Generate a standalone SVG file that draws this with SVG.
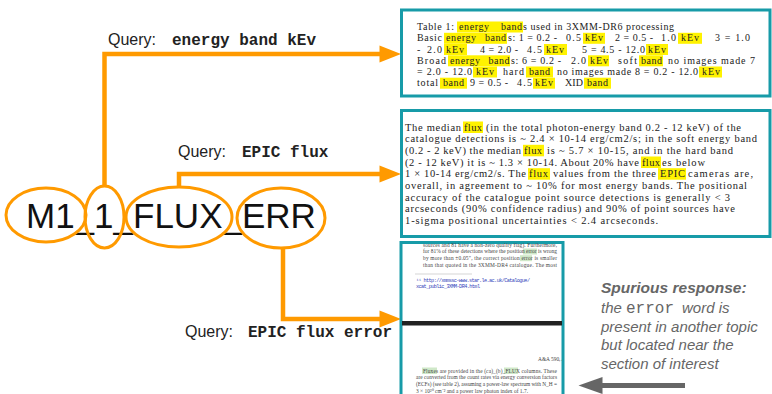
<svg xmlns="http://www.w3.org/2000/svg" width="772" height="394" viewBox="0 0 772 394">
<style>
.box{fill:#fff;stroke:#179ba8;stroke-width:3}
.conn{fill:none;stroke:#ff9a00;stroke-width:4.5}
.ell{fill:none;stroke:#ff9a00;stroke-width:3}
.q{font-family:"Liberation Sans",Arial,sans-serif;font-size:16px;fill:#222}
.qm{font-family:"Liberation Mono","Courier New",monospace;font-size:16px;font-weight:bold;fill:#222}
.big{font-family:"Liberation Sans",Arial,sans-serif;font-size:35px;fill:#111}
.t1{font-family:"Liberation Serif","Times New Roman",serif;font-size:10px;fill:#222}
.t2{font-family:"Liberation Serif","Times New Roman",serif;font-size:10.5px;fill:#222}
.t3{font-family:"Liberation Serif","Times New Roman",serif;font-size:5.4px;fill:#444}
.url{font-family:"Liberation Mono","Courier New",monospace;font-size:5.2px;fill:#3344bb}
.hl{fill:#fff200}
.hg{fill:#cfe8c8}
.note{font-family:"Liberation Sans",Arial,sans-serif;font-size:15px;font-style:italic;fill:#666}
.noteb{font-weight:bold;font-size:15.5px}
.notem{font-family:"Liberation Mono","Courier New",monospace;font-style:normal;font-size:16px;fill:#666}
</style>
<defs>
<marker id="ah" markerUnits="userSpaceOnUse" markerWidth="24" markerHeight="20" viewBox="0 -10 24 20" refX="0.5" refY="0" orient="auto" overflow="visible"><path d="M0,-8.5 L21.5,0 L0,8.5 z" fill="#ff9a00"/></marker>
<marker id="ahg" markerUnits="userSpaceOnUse" markerWidth="26" markerHeight="20" viewBox="0 -10 26 20" refX="0.5" refY="0" orient="auto" overflow="visible"><path d="M0,-8.5 L24,0 L0,8.5 z" fill="#666"/></marker>
<clipPath id="c3"><rect x="402" y="243" width="160" height="151"/></clipPath>
</defs>
<rect width="772" height="394" fill="#fff"/>

<g id="connectors">
<path class="conn" d="M104.5,186 V54 H380" marker-end="url(#ah)"/>
<path class="conn" d="M179,187 V174 H380" marker-end="url(#ah)"/>
<path class="conn" d="M283,248 V319 H380" marker-end="url(#ah)"/>
<text class="q" x="108" y="45">Query:<tspan class="qm" x="172">energy band kEv</tspan></text>
<text class="q" x="178" y="157">Query:<tspan class="qm" x="242">EPIC flux</tspan></text>
<text class="q" x="185" y="337">Query:<tspan class="qm" x="248">EPIC flux error</tspan></text>
<path d="M685,385.5 H602" fill="none" stroke="#666" stroke-width="5" marker-end="url(#ahg)"/>
</g>

<g id="word">
<text class="big" x="26" y="228">M1_1_FLUX_ERR</text>
</g>
<g id="tok-M1"><ellipse class="ell" cx="46" cy="215" rx="40" ry="27"/></g>
<g id="tok-1"><ellipse class="ell" cx="104.5" cy="217" rx="19.5" ry="31"/></g>
<g id="tok-FLUX"><ellipse class="ell" cx="179" cy="217" rx="53" ry="30"/></g>
<g id="tok-ERR"><ellipse class="ell" cx="281" cy="218" rx="44" ry="30"/></g>

<g id="box-energy">
<rect class="box" x="401.5" y="10" width="368.5" height="86"/>
<rect class="hl" x="457" y="21.5" width="66" height="11"/>
<rect class="hl" x="444" y="32.8" width="63" height="11"/>
<rect class="hl" x="583" y="32.8" width="22" height="11"/>
<rect class="hl" x="678" y="32.8" width="24" height="11"/>
<rect class="hl" x="444" y="44" width="23" height="11"/>
<rect class="hl" x="544" y="44" width="23" height="11"/>
<rect class="hl" x="646" y="44" width="22" height="11"/>
<rect class="hl" x="448" y="55.3" width="62" height="11"/>
<rect class="hl" x="588" y="55.3" width="21" height="11"/>
<rect class="hl" x="639" y="55.3" width="24" height="11"/>
<rect class="hl" x="473" y="66.5" width="24" height="11"/>
<rect class="hl" x="526" y="66.5" width="27" height="11"/>
<rect class="hl" x="699" y="66.5" width="23" height="11"/>
<rect class="hl" x="440" y="77.7" width="27" height="11"/>
<rect class="hl" x="533" y="77.7" width="22" height="11"/>
<rect class="hl" x="584" y="77.7" width="27" height="11"/>
<text class="t1"><tspan x="417" y="30" textLength="37" lengthAdjust="spacing">Table 1:</tspan><tspan x="459" y="30" textLength="30" lengthAdjust="spacing">energy</tspan><tspan x="501" y="30" textLength="21" lengthAdjust="spacing">band</tspan><tspan x="523" y="30" textLength="151" lengthAdjust="spacing">s used in 3XMM-DR6 processing</tspan><tspan x="417" y="41.3" textLength="25" lengthAdjust="spacing">Basic</tspan><tspan x="446" y="41.3" textLength="30" lengthAdjust="spacing">energy</tspan><tspan x="485" y="41.3" textLength="21" lengthAdjust="spacing">band</tspan><tspan x="508" y="41.3" textLength="49" lengthAdjust="spacing">s: 1 = 0.2 -</tspan><tspan x="566" y="41.3" textLength="15" lengthAdjust="spacing">0.5</tspan><tspan x="585" y="41.3" textLength="18" lengthAdjust="spacing">kEv</tspan><tspan x="615" y="41.3" textLength="38" lengthAdjust="spacing">2 = 0.5 -</tspan><tspan x="661" y="41.3" textLength="15" lengthAdjust="spacing">1.0</tspan><tspan x="681" y="41.3" textLength="18" lengthAdjust="spacing">kEv</tspan><tspan x="715" y="41.3" textLength="35" lengthAdjust="spacing">3 = 1.0</tspan><tspan x="417" y="52.5">-</tspan><tspan x="427" y="52.5" textLength="15" lengthAdjust="spacing">2.0</tspan><tspan x="446" y="52.5" textLength="18" lengthAdjust="spacing">kEv</tspan><tspan x="480" y="52.5" textLength="38" lengthAdjust="spacing">4 = 2.0 -</tspan><tspan x="527" y="52.5" textLength="15" lengthAdjust="spacing">4.5</tspan><tspan x="546" y="52.5" textLength="18" lengthAdjust="spacing">kEv</tspan><tspan x="582" y="52.5" textLength="63" lengthAdjust="spacing">5 = 4.5 - 12.0</tspan><tspan x="648" y="52.5" textLength="18" lengthAdjust="spacing">kEv</tspan><tspan x="417" y="63.8" textLength="29" lengthAdjust="spacing">Broad</tspan><tspan x="450" y="63.8" textLength="30" lengthAdjust="spacing">energy</tspan><tspan x="488.5" y="63.8" textLength="21" lengthAdjust="spacing">band</tspan><tspan x="511" y="63.8" textLength="50" lengthAdjust="spacing">s: 6 = 0.2 -</tspan><tspan x="571" y="63.8" textLength="15" lengthAdjust="spacing">2.0</tspan><tspan x="590" y="63.8" textLength="18" lengthAdjust="spacing">kEv</tspan><tspan x="618" y="63.8" textLength="19" lengthAdjust="spacing">soft</tspan><tspan x="641" y="63.8" textLength="21" lengthAdjust="spacing">band</tspan><tspan x="668" y="63.8" textLength="87" lengthAdjust="spacing">no images made 7</tspan><tspan x="417" y="75" textLength="55" lengthAdjust="spacing">= 2.0 - 12.0</tspan><tspan x="476" y="75" textLength="18" lengthAdjust="spacing">kEv</tspan><tspan x="503" y="75" textLength="21" lengthAdjust="spacing">hard</tspan><tspan x="529" y="75" textLength="21" lengthAdjust="spacing">band</tspan><tspan x="557" y="75" textLength="141" lengthAdjust="spacing">no images made 8 = 0.2 - 12.0</tspan><tspan x="702" y="75" textLength="18" lengthAdjust="spacing">kEv</tspan><tspan x="417" y="86.2" textLength="21" lengthAdjust="spacing">total</tspan><tspan x="443" y="86.2" textLength="21" lengthAdjust="spacing">band</tspan><tspan x="470" y="86.2" textLength="38" lengthAdjust="spacing">9 = 0.5 -</tspan><tspan x="517" y="86.2" textLength="15" lengthAdjust="spacing">4.5</tspan><tspan x="535" y="86.2" textLength="18" lengthAdjust="spacing">kEv</tspan><tspan x="565" y="86.2" textLength="18" lengthAdjust="spacing">XID</tspan><tspan x="587" y="86.2" textLength="21" lengthAdjust="spacing">band</tspan></text>
</g>

<g id="box-flux">
<rect class="box" x="401.5" y="110.5" width="368.5" height="126"/>
<rect class="hl" x="463" y="121.5" width="20" height="11.5"/>
<rect class="hl" x="523" y="144.8" width="21" height="11.5"/>
<rect class="hl" x="641" y="156.5" width="20" height="11.5"/>
<rect class="hl" x="528" y="168.2" width="22" height="11.5"/>
<rect class="hl" x="658" y="168.2" width="28" height="11.5"/>
<text class="t2"><tspan x="405" y="130.5" textLength="56" lengthAdjust="spacing">The median</tspan><tspan x="464" y="130.5" textLength="18" lengthAdjust="spacing">flux</tspan><tspan x="486" y="130.5" textLength="255" lengthAdjust="spacing">(in the total photon-energy band 0.2 - 12 keV) of the</tspan><tspan x="405" y="142.2" textLength="352" lengthAdjust="spacing">catalogue detections is ~ 2.4 × 10-14 erg/cm2/s; in the soft energy band</tspan><tspan x="405" y="153.9" textLength="116" lengthAdjust="spacing">(0.2 - 2 keV) the median</tspan><tspan x="524" y="153.9" textLength="18" lengthAdjust="spacing">flux</tspan><tspan x="547" y="153.9" textLength="186" lengthAdjust="spacing">is ~ 5.7 × 10-15, and in the hard band</tspan><tspan x="405" y="165.6" textLength="234" lengthAdjust="spacing">(2 - 12 keV) it is ~ 1.3 × 10-14. About 20% have</tspan><tspan x="642" y="165.6" textLength="18" lengthAdjust="spacing">flux</tspan><tspan x="662" y="165.6" textLength="43" lengthAdjust="spacing">es below</tspan><tspan x="405" y="177.3" textLength="121" lengthAdjust="spacing">1 × 10-14 erg/cm2/s. The</tspan><tspan x="529" y="177.3" textLength="19" lengthAdjust="spacing">flux</tspan><tspan x="553" y="177.3" textLength="103" lengthAdjust="spacing">values from the three</tspan><tspan x="660" y="177.3" textLength="25" lengthAdjust="spacing">EPIC</tspan><tspan x="688" y="177.3" textLength="65" lengthAdjust="spacing">cameras are,</tspan><tspan x="405" y="189" textLength="342" lengthAdjust="spacing">overall, in agreement to ~ 10% for most energy bands. The positional</tspan><tspan x="405" y="200.7" textLength="325" lengthAdjust="spacing">accuracy of the catalogue point source detections is generally &lt; 3</tspan><tspan x="405" y="212.4" textLength="330" lengthAdjust="spacing">arcseconds (90% confidence radius) and 90% of point sources have</tspan><tspan x="405" y="224.1" textLength="253" lengthAdjust="spacing">1-sigma positional uncertainties  &lt;  2.4 arcseconds.</tspan></text>
</g>

<g id="box-error">
<rect class="box" x="401" y="242.5" width="162" height="160"/>
<g clip-path="url(#c3)">
<rect class="hg" x="523" y="248.5" width="14" height="6"/>
<rect class="hg" x="520" y="255.2" width="12" height="6"/>
<text class="t3"><tspan x="423" y="246.5" textLength="134" lengthAdjust="spacing">sources and 81 have a non-zero quality flag). Furthermore,</tspan><tspan x="423" y="253.3" textLength="134" lengthAdjust="spacing">for 81% of these detections where the position error is wrong</tspan><tspan x="423" y="260" textLength="134" lengthAdjust="spacing">by more than ±0.05″, the correct position error is smaller</tspan><tspan x="423" y="266.8" textLength="134" lengthAdjust="spacing">than that quoted in the 3XMM-DR4 catalogue. The most</tspan></text>
<line x1="415" y1="274" x2="472" y2="274" stroke="#bbb" stroke-width="0.6"/>
<text class="url"><tspan x="416" y="281.5" textLength="114" lengthAdjust="spacing">¹¹ http://xmmssc-www.star.le.ac.uk/Catalogue/</tspan><tspan x="416" y="288" textLength="64" lengthAdjust="spacing">xcat_public_3XMM-DR4.html</tspan></text>
<rect x="402" y="321" width="160" height="4.5" fill="#222"/>
<text class="t3" x="538" y="361">A&amp;A 590, A1</text>
<rect class="hg" x="422" y="367.5" width="15" height="6.5"/>
<rect class="hg" x="504" y="367.5" width="14" height="6.5"/>
<text class="t3"><tspan x="423" y="372.5" textLength="134" lengthAdjust="spacing">Fluxes are provided in the (ca)_(b)_FLUX columns. These</tspan><tspan x="416" y="379.2" textLength="141" lengthAdjust="spacing">are converted from the count rates via energy conversion factors</tspan><tspan x="416" y="385.9" textLength="141" lengthAdjust="spacing">(ECFs) (see table 2), assuming a power-law spectrum with N_H =</tspan><tspan x="416" y="392.6" textLength="112" lengthAdjust="spacing">3 × 10²⁰ cm⁻² and a power law photon index of 1.7.</tspan></text>
</g>
</g>

<g id="note">
<text class="note"><tspan class="noteb" x="601" y="293">Spurious response:</tspan><tspan x="601" y="313">the </tspan><tspan class="notem" x="626" y="313">error</tspan><tspan x="682" y="313">word is</tspan><tspan x="601" y="331.5">present in another topic</tspan><tspan x="601" y="350">but located near the</tspan><tspan x="601" y="368.5">section of interest</tspan></text>
</g>
</svg>
